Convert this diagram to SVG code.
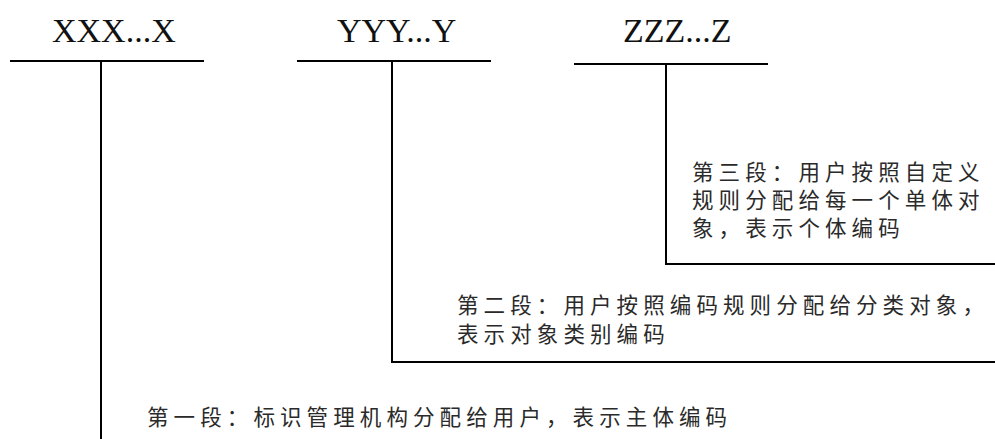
<svg xmlns="http://www.w3.org/2000/svg" width="995" height="439" viewBox="0 0 995 439">
<style>
.head{font-family:"Liberation Serif","Times New Roman",serif;font-size:34px;fill:#111;}
.desc{font-family:"Noto Sans CJK SC","Noto Sans CJK JP",sans-serif;font-size:21.5px;letter-spacing:5.1px;fill:#2a2a2a;}
.ln{stroke:#000;stroke-width:2;fill:none;}
</style>
<rect width="995" height="439" fill="#fff"/>
<g id="seg1">
<text class="head" x="52" y="42">XXX...X</text>
<line class="ln" x1="10" y1="61" x2="204" y2="61"/>
</g>
<g id="seg2">
<text class="head" x="337" y="42">YYY...Y</text>
<line class="ln" x1="297" y1="61" x2="491" y2="61"/>
</g>
<g id="seg3">
<text class="head" x="623" y="42">ZZZ...Z</text>
<line class="ln" x1="574" y1="64" x2="768" y2="64"/>
</g>
<g id="desc3">
<text class="desc" x="692" y="180">第三段：用户按照自定义</text>
<text class="desc" x="692" y="208">规则分配给每一个单体对</text>
<text class="desc" x="692" y="236">象，表示个体编码</text>
</g>
<g id="desc2">
<text class="desc" x="457" y="313">第二段：用户按照编码规则分配给分类对象，</text>
<text class="desc" x="457" y="342">表示对象类别编码</text>
</g>
<g id="desc1">
<text class="desc" x="147" y="425">第一段：标识管理机构分配给用户，表示主体编码</text>
</g>
<g id="connectors">
<polyline class="ln" points="101,61 101,439"/>
<polyline class="ln" points="392,61 392,362 995,362"/>
<polyline class="ln" points="666,64 666,264 995,264"/>
</g>
</svg>
